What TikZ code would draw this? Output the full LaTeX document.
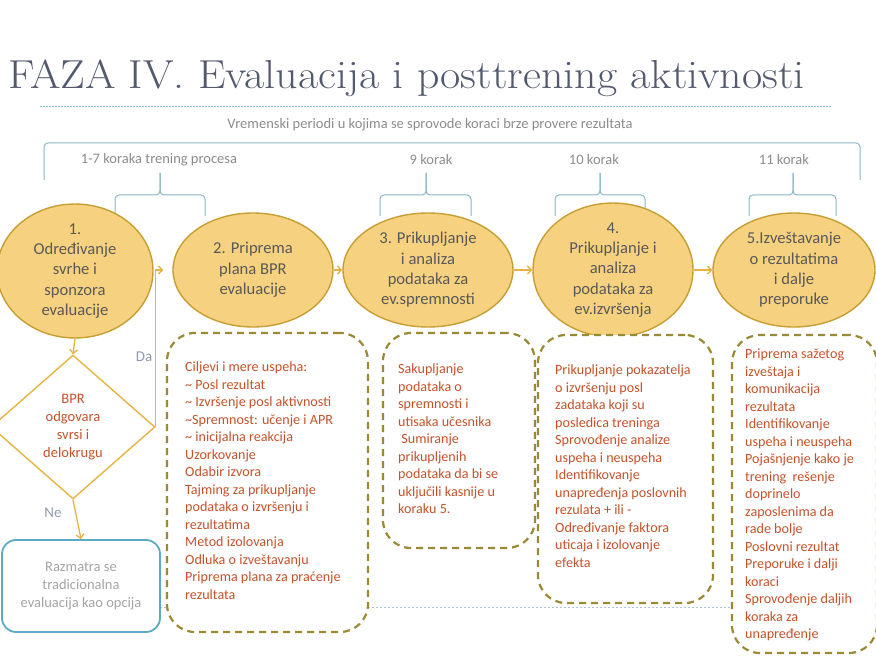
\documentclass[tikz,border=0pt]{standalone}
\usepackage{fontspec}
\newfontfamily\sansf{Carlito}
\usetikzlibrary{shapes.geometric,arrows.meta}
\definecolor{ellfill}{HTML}{F6D17F}
\definecolor{elldraw}{HTML}{C79E33}
\definecolor{conn}{HTML}{E5B443}
\definecolor{bracec}{HTML}{8AB6C8}
\definecolor{dashc}{HTML}{9B8A34}
\definecolor{boxtext}{HTML}{C4532B}
\definecolor{elltext}{HTML}{595959}
\definecolor{labgray}{HTML}{8C8C8C}
\definecolor{tealc}{HTML}{5CAAC4}
\definecolor{dane}{HTML}{8E9AAF}
\definecolor{titlec}{HTML}{545A6E}
\definecolor{dotc}{HTML}{8CC5CC}
\definecolor{botdot}{HTML}{A9C4D8}
\definecolor{razmc}{HTML}{A5A5A5}
\begin{document}
\begin{tikzpicture}[x=1pt,y=-1pt,
  stage/.style={ellipse, draw=elldraw, line width=1.4pt, fill=ellfill, inner sep=0pt,
    minimum height=114pt, align=center, text=elltext,
    font=\sansf\fontsize{16.6}{20.3}\selectfont},
  conline/.style={draw=conn, line width=1.3pt, -{Straight Barb[length=4pt,width=8pt]}},
  bracel/.style={draw=bracec, line width=1pt, rounded corners=4pt},
  dbox/.style={rectangle, rounded corners=28pt, draw=dashc, line width=2.2pt,
    dash pattern=on 7pt off 5pt, fill=white, inner sep=0pt},
  dtext/.style={anchor=north west, inner sep=0pt, align=left, text=boxtext,
    font=\sansf\fontsize{14.1}{17.5}\selectfont},
  blabel/.style={text=labgray, font=\sansf\fontsize{14.5}{16}\selectfont, inner sep=0pt},
  ynlabel/.style={text=dane, font=\sansf\fontsize{15}{16}\selectfont, inner sep=0pt}
]
\useasboundingbox (0,0) rectangle (876,660);
\clip (0,0) rectangle (876,660);

% title
\node[anchor=base west, inner sep=0pt, text=titlec, font=\fontsize{40.5}{41}\selectfont] (title) at (8,89) {\scalebox{1.085}[1]{FAZA IV. Evaluacija i posttrening aktivnosti}};
\draw[dotc, line width=0.9pt, dash pattern=on 1.5pt off 1.5pt] (40,106) -- (832,106);

% subtitle and braces
\node[blabel] (sub) at (430,125) {Vremenski periodi u kojima se sprovode koraci brze provere rezultata};
\draw[bracel] (44,180) -- (44,143) -- (860,143) -- (860,180);

\node[blabel] (l17) at (159,160) {1-7 koraka trening procesa};
\node[blabel] (l9) at (431,160) {9 korak};
\node[blabel] (l10) at (594,160) {10 korak};
\node[blabel] (l11) at (784,160) {11 korak};

\foreach \a/\m/\b in {115/160/205, 380/426/471, 555/600/645, 749/793/836}{
  \draw[bracel] (\a,216) -- (\a,195) -- (\m,195) -- (\m,173);
  \draw[bracel] (\b,216) -- (\b,195) -- (\m,195) -- (\m,173);
}

% bottom dotted line
\draw[botdot, line width=0.8pt, dash pattern=on 2pt off 2pt] (160,607) -- (876,607);

% stages
\node[stage, minimum width=156pt] (e1) at (75,271) {1.\\Određivanje\\svrhe i\\sponzora\\evaluacije};
\node[stage, minimum width=160pt] (e2) at (253,270) {2. Priprema\\plana BPR\\evaluacije};
\node[stage, minimum width=170pt] (e3) at (428,270) {3. Prikupljanje\\i analiza\\podataka za\\ev.spremnosti};
\node[stage, minimum width=160pt] (e4) at (613,270) {4.\\Prikupljanje i\\analiza\\podataka za\\ev.izvršenja};
\node[stage, minimum width=162pt] (e5) at (794,270) {5.Izveštavanje\\o rezultatima\\i dalje\\preporuke};

\draw[conline] (e2.east) -- (e3.west);
\draw[conline] (e3.east) -- (e4.west);
\draw[conline] (e4.east) -- (e5.west);

% decision
\node[diamond, draw=conn, line width=1.4pt, fill=white, minimum width=164pt, minimum height=144pt, inner sep=0pt] (dia) at (73,427) {};
\node[align=center, text=boxtext, font=\sansf\fontsize{14.5}{18}\selectfont, inner sep=0pt] (diat) at (73,427) {BPR\\odgovara\\svrsi i\\delokrugu};

\node[rectangle, rounded corners=14pt, draw=tealc, line width=1.8pt, fill=white, minimum width=158pt, minimum height=92pt, inner sep=0pt, align=center, text=razmc, font=\sansf\fontsize{14.5}{18}\selectfont] (razm) at (81,586) {Razmatra se\\tradicionalna\\evaluacija kao opcija};

\draw[conline] (e1.south) -- (dia.north);
\draw[conline] (dia.south) -- (razm.north);
\draw[conline, shorten >=9pt] (dia.east) |- (e2.west);
\node[ynlabel] (ne) at (53,513) {Ne};
\node[ynlabel] (da) at (144,357) {Da};

% dashed boxes
\node[dbox, minimum width=201pt, minimum height=299pt] (bA) at (267.5,482.5) {};
\node[dtext] (tA) at (185,362) {Ciljevi i mere uspeha:\\\textasciitilde{} Posl rezultat\\\textasciitilde{} Izvršenje posl aktivnosti\\\textasciitilde{}Spremnost: učenje i APR\\\textasciitilde{} inicijalna reakcija\\Uzorkovanje\\Odabir izvora\\Tajming za prikupljanje\\podataka o izvršenju i\\rezultatima\\Metod izolovanja\\Odluka o izveštavanju\\Priprema plana za praćenje\\rezultata};

\node[dbox, minimum width=152pt, minimum height=215pt] (bB) at (459,440.5) {};
\node[dtext] (tB) at (398,364) {Sakupljanje\\podataka o\\spremnosti i\\utisaka učesnika\\\ Sumiranje\\prikupljenih\\podataka da bi se\\uključili kasnije u\\koraku 5.};

\node[dbox, minimum width=175pt, minimum height=268pt] (bC) at (625.5,469) {};
\node[dtext] (tC) at (555,365) {Prikupljanje pokazatelja\\o izvršenju posl\\zadataka koji su\\posledica treninga\\Sprovođenje analize\\uspeha i neuspeha\\Identifikovanje\\unapređenja poslovnih\\rezulata + ili -\\Određivanje faktora\\uticaja i izolovanje\\efekta};

\node[dbox, minimum width=145pt, minimum height=318pt] (bD) at (804.5,494) {};
\node[dtext] (tD) at (745,349) {Priprema sažetog\\izveštaja i\\komunikacija\\rezultata\\Identifikovanje\\uspeha i neuspeha\\Pojašnjenje kako je\\trening\ \ rešenje\\doprinelo\\zaposlenima da\\rade bolje\\Poslovni rezultat\\Preporuke i dalji\\koraci\\Sprovođenje daljih\\koraka za\\unapređenje};
\end{tikzpicture}
\end{document}
